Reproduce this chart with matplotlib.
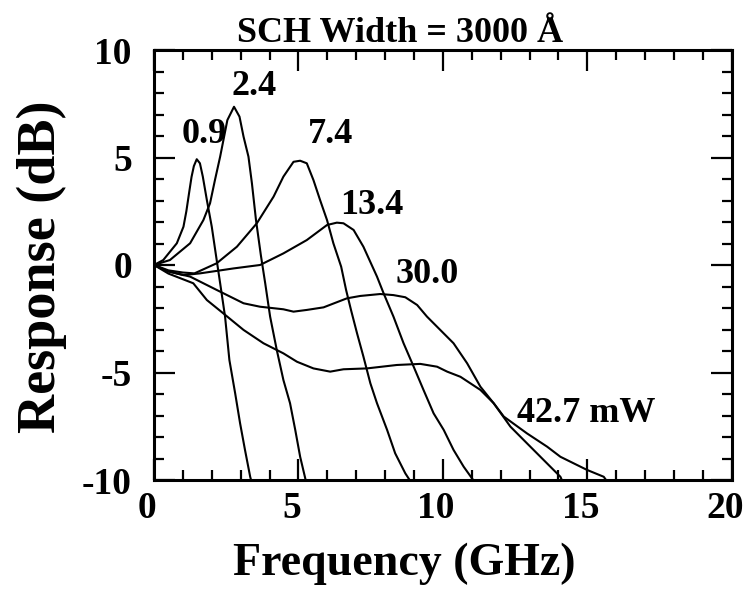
import matplotlib
matplotlib.use("Agg")
import matplotlib.pyplot as plt
import matplotlib.transforms as mtransforms
from matplotlib.ticker import MultipleLocator

# ---- data ----
f09 = [0, 0.32, 0.79, 1.02, 1.12, 1.22, 1.30, 1.38, 1.48, 1.59, 1.69, 1.83, 2.00, 2.17, 2.29, 2.46, 2.61, 2.81, 2.98, 3.15, 3.33, 3.36]
r09 = [0, 0.23, 1.01, 1.78, 2.50, 3.40, 4.10, 4.60, 4.92, 4.73, 4.11, 3.02, 1.78, 0.23, -0.85, -2.40, -4.42, -5.97, -7.36, -8.60, -9.85, -10.0]

f24 = [0, 0.55, 1.25, 1.71, 1.94, 2.11, 2.29, 2.54, 2.77, 2.96, 3.10, 3.27, 3.39, 3.53, 3.70, 3.85, 4.02, 4.25, 4.48, 4.71, 4.89, 5.06, 5.25]
r24 = [0, 0.23, 1.01, 2.09, 2.87, 3.95, 5.04, 6.74, 7.36, 6.90, 5.97, 5.04, 3.80, 2.10, 0.45, -0.85, -2.40, -3.95, -5.35, -6.43, -7.67, -8.92, -10.0]

f74 = [0, 0.5, 1.0, 1.4, 2.17, 2.87, 3.56, 4.14, 4.48, 4.83, 5.06, 5.29, 5.52, 5.75, 5.99, 6.21, 6.48, 6.65, 6.82, 7.03, 7.25, 7.49, 7.72, 8.07, 8.35, 8.70, 8.85]
r74 = [0, -0.25, -0.35, -0.39, 0.08, 0.85, 1.94, 3.18, 4.11, 4.80, 4.85, 4.73, 3.95, 3.02, 2.09, 1.01, -0.08, -1.16, -2.09, -3.18, -4.26, -5.50, -6.43, -7.67, -8.76, -9.69, -10.0]

f134 = [0, 0.5, 1.02, 1.59, 2.75, 3.67, 4.48, 5.29, 5.99, 6.33, 6.56, 6.91, 7.25, 7.72, 7.95, 8.29, 8.64, 8.99, 9.33, 9.68, 10.03, 10.37, 10.72, 11.05]
r134 = [0, -0.3, -0.47, -0.39, -0.16, 0.0, 0.54, 1.16, 1.86, 1.97, 1.94, 1.63, 0.85, -0.54, -1.32, -2.40, -3.64, -4.73, -5.81, -6.90, -7.67, -8.60, -9.38, -10.0]

f30 = [0, 0.5, 1.25, 2.17, 3.10, 3.67, 4.48, 4.83, 5.29, 5.87, 6.68, 7.14, 7.83, 8.29, 8.70, 9.11, 9.45, 9.91, 10.37, 10.84, 11.30, 11.76, 12.34, 12.91, 13.49, 14.07, 14.12]
r30 = [0, -0.3, -0.54, -1.16, -1.78, -1.94, -2.06, -2.17, -2.09, -1.97, -1.55, -1.44, -1.35, -1.40, -1.50, -1.86, -2.40, -3.02, -3.64, -4.57, -5.66, -6.43, -7.52, -8.29, -9.07, -9.85, -10.0]

f427 = [0, 0.5, 1.36, 1.83, 2.40, 3.10, 3.79, 4.48, 4.95, 5.52, 6.10, 6.56, 7.37, 8.41, 9.22, 9.80, 10.15, 10.61, 11.30, 11.76, 12.11, 12.91, 13.61, 14.07, 14.99, 15.57, 15.65]
r427 = [0, -0.4, -0.85, -1.63, -2.25, -3.02, -3.64, -4.11, -4.50, -4.81, -4.96, -4.85, -4.81, -4.65, -4.60, -4.73, -4.96, -5.20, -5.81, -6.43, -7.05, -7.83, -8.45, -8.92, -9.53, -9.85, -10.0]

series = [(f09, r09), (f24, r24), (f74, r74), (f134, r134), (f30, r30), (f427, r427)]

curve_labels = ["0.9", "2.4", "7.4", "13.4", "30.0", "42.7 mW"]
label_x = [0.96, 2.69, 5.34, 6.45, 8.35, 12.57]
label_y = [5.67, 7.91, 5.67, 2.37, -0.85, -7.29]

x_ticks = [0, 5, 10, 15, 20]
y_ticks = [-10, -5, 0, 5, 10]

title = "SCH Width = 3000 Å"
xlabel = "Frequency (GHz)"
ylabel = "Response (dB)"

# ---- figure ----
plt.rcParams['font.family'] = ['Liberation Serif', 'DejaVu Serif']
plt.rcParams['font.weight'] = 'bold'

fig = plt.figure(figsize=(7.55, 5.93), dpi=100)
ax = fig.add_axes([154/755, 1 - 480/593, (731.7 - 154)/755, (480 - 50)/593])

for fx, ry in series:
    ax.plot(fx, ry, color='black', lw=1.5, solid_joinstyle='round')

for t, lx, ly in zip(curve_labels, label_x, label_y):
    ax.text(lx, ly, t, fontsize=26, fontweight='bold', ha='left', va='baseline')

ax.set_xlim(0, 20)
ax.set_ylim(-10, 10)
ax.set_xticks(x_ticks)
ax.set_yticks(y_ticks)
ax.set_xticklabels([str(v) for v in x_ticks])
ax.set_yticklabels([str(v) for v in y_ticks])
ax.xaxis.set_minor_locator(MultipleLocator(1))
ax.yaxis.set_minor_locator(MultipleLocator(1))
ax.tick_params(which='both', direction='in', top=True, right=True, width=1.6)
ax.tick_params(which='major', length=15, labelsize=27, pad=8)
ax.tick_params(which='minor', length=7.5)
ax.tick_params(axis='y', which='major', pad=16)
for lab in ax.get_xticklabels() + ax.get_yticklabels():
    lab.set_fontweight('bold')
offset = mtransforms.ScaledTranslation(-7/100, 0, fig.dpi_scale_trans)
for lab in ax.get_xticklabels():
    lab.set_transform(lab.get_transform() + offset)
for s in ax.spines.values():
    s.set_linewidth(2.2)

fig.text(400.5/755, 1 - 41.7/593, title, fontsize=26, fontweight='bold', ha='center', va='baseline')
fig.text(404/755, 1 - 575/593, xlabel, fontsize=33, fontweight='bold', ha='center', va='baseline')
fig.text(42/755, 1 - 267/593, ylabel, fontsize=39, fontweight='bold', ha='center', va='center', rotation=90)

fig.savefig("out.png", dpi=100)
